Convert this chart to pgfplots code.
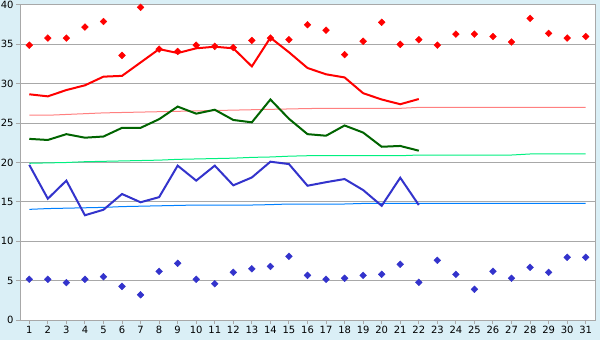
\documentclass[border=0pt]{standalone}
\usepackage{pgfplots}
\pgfplotsset{compat=1.18}
\usepackage{fontspec}
\setmainfont{DejaVu Sans}
\definecolor{bgblue}{HTML}{DAEFF6}
\definecolor{gridgray}{HTML}{A8A8A8}
\definecolor{maxred}{HTML}{FF0000}
\definecolor{avggreen}{HTML}{006400}
\definecolor{minblue}{HTML}{3333CC}
\definecolor{nmax}{HTML}{FF8080}
\definecolor{navg}{HTML}{00F080}
\definecolor{nmin}{HTML}{0080FF}
\begin{document}
\begin{tikzpicture}
\path[use as bounding box, fill=bgblue] (0,0) rectangle (600bp,340bp);
\begin{axis}[
  at={(20bp,20bp)}, anchor=south west,
  scale only axis, width=575bp, height=315bp,
  xmin=0.5, xmax=31.5, ymin=0, ymax=40,
  axis background/.style={fill=white},
  axis line style={gridgray, line width=1bp},
  xtick={1,...,31}, ytick={0,5,...,40},
  ymajorgrids, major grid style={gridgray, line width=1bp},
  tick style={gridgray, line width=1bp},
  tick align=outside, major tick length=4bp,
  xtick pos=bottom, ytick pos=left,
  ticklabel style={font=\fontsize{10}{12}\selectfont, text=black},
  xticklabel style={yshift=1bp},
  yticklabel style={xshift=1bp},
  /pgf/number format/assume math mode=true,
  clip=false,
]
% normals (thin)
\addplot[nmax, line width=1bp] coordinates {(1,26.0)(2,26.0)(3,26.1)(4,26.2)(5,26.3)(6,26.35)(7,26.4)(8,26.45)(9,26.5)(10,26.55)(11,26.6)(12,26.65)(13,26.7)(14,26.75)(15,26.8)(16,26.85)(17,26.88)(18,26.88)(19,26.88)(20,26.88)(21,26.88)(22,27.0)(23,27.0)(24,27.0)(25,27.0)(26,27.0)(27,27.0)(28,27.0)(29,27.0)(30,27.0)(31,27.0)};
\addplot[navg, line width=1bp] coordinates {(1,19.9)(2,19.95)(3,20.0)(4,20.1)(5,20.15)(6,20.2)(7,20.25)(8,20.3)(9,20.4)(10,20.45)(11,20.5)(12,20.55)(13,20.65)(14,20.7)(15,20.8)(16,20.86)(17,20.86)(18,20.86)(19,20.86)(20,20.86)(21,20.86)(22,20.95)(23,20.95)(24,20.95)(25,20.95)(26,20.95)(27,20.95)(28,21.08)(29,21.08)(30,21.08)(31,21.08)};
\addplot[nmin, line width=1bp] coordinates {(1,14.05)(2,14.15)(3,14.2)(4,14.25)(5,14.3)(6,14.4)(7,14.45)(8,14.5)(9,14.55)(10,14.6)(11,14.6)(12,14.6)(13,14.6)(14,14.65)(15,14.73)(16,14.73)(17,14.73)(18,14.73)(19,14.8)(20,14.8)(21,14.8)(22,14.8)(23,14.8)(24,14.8)(25,14.8)(26,14.8)(27,14.8)(28,14.8)(29,14.8)(30,14.8)(31,14.8)};
% running means
\addplot[maxred, line width=2bp] coordinates {(1,28.66)(2,28.4)(3,29.2)(4,29.8)(5,30.9)(6,31.0)(7,32.7)(8,34.4)(9,33.9)(10,34.5)(11,34.7)(12,34.5)(13,32.2)(14,35.85)(15,34.0)(16,32.0)(17,31.2)(18,30.8)(19,28.8)(20,28.0)(21,27.4)(22,28.06)};
\addplot[avggreen, line width=2bp] coordinates {(1,23.0)(2,22.86)(3,23.6)(4,23.15)(5,23.3)(6,24.4)(7,24.4)(8,25.5)(9,27.1)(10,26.2)(11,26.7)(12,25.4)(13,25.1)(14,28.0)(15,25.55)(16,23.6)(17,23.4)(18,24.7)(19,23.8)(20,22.0)(21,22.1)(22,21.5)};
\addplot[minblue, line width=2bp] coordinates {(1,19.7)(2,15.4)(3,17.7)(4,13.3)(5,14.0)(6,16.0)(7,14.95)(8,15.6)(9,19.6)(10,17.7)(11,19.6)(12,17.1)(13,18.1)(14,20.1)(15,19.8)(16,17.05)(17,17.5)(18,17.9)(19,16.5)(20,14.5)(21,18.07)(22,14.6)};
% daily extremes
\addplot[only marks, mark=square*, mark size=2.4bp, mark options={rotate=45}, maxred] coordinates {(1,34.9)(2,35.8)(3,35.8)(4,37.2)(5,37.9)(6,33.6)(7,39.7)(8,34.4)(9,34.1)(10,34.9)(11,34.75)(12,34.6)(13,35.5)(14,35.8)(15,35.6)(16,37.5)(17,36.8)(18,33.7)(19,35.4)(20,37.8)(21,35.0)(22,35.6)(23,34.9)(24,36.3)(25,36.3)(26,36.0)(27,35.3)(28,38.3)(29,36.4)(30,35.8)(31,36.0)};
\addplot[only marks, mark=square*, mark size=2.4bp, mark options={rotate=45}, minblue] coordinates {(1,5.17)(2,5.17)(3,4.74)(4,5.17)(5,5.5)(6,4.27)(7,3.2)(8,6.18)(9,7.2)(10,5.17)(11,4.6)(12,6.05)(13,6.5)(14,6.8)(15,8.08)(16,5.67)(17,5.17)(18,5.3)(19,5.67)(20,5.8)(21,7.07)(22,4.78)(23,7.58)(24,5.8)(25,3.9)(26,6.18)(27,5.3)(28,6.69)(29,6.05)(30,7.96)(31,7.96)};
\end{axis}
\end{tikzpicture}
\end{document}
